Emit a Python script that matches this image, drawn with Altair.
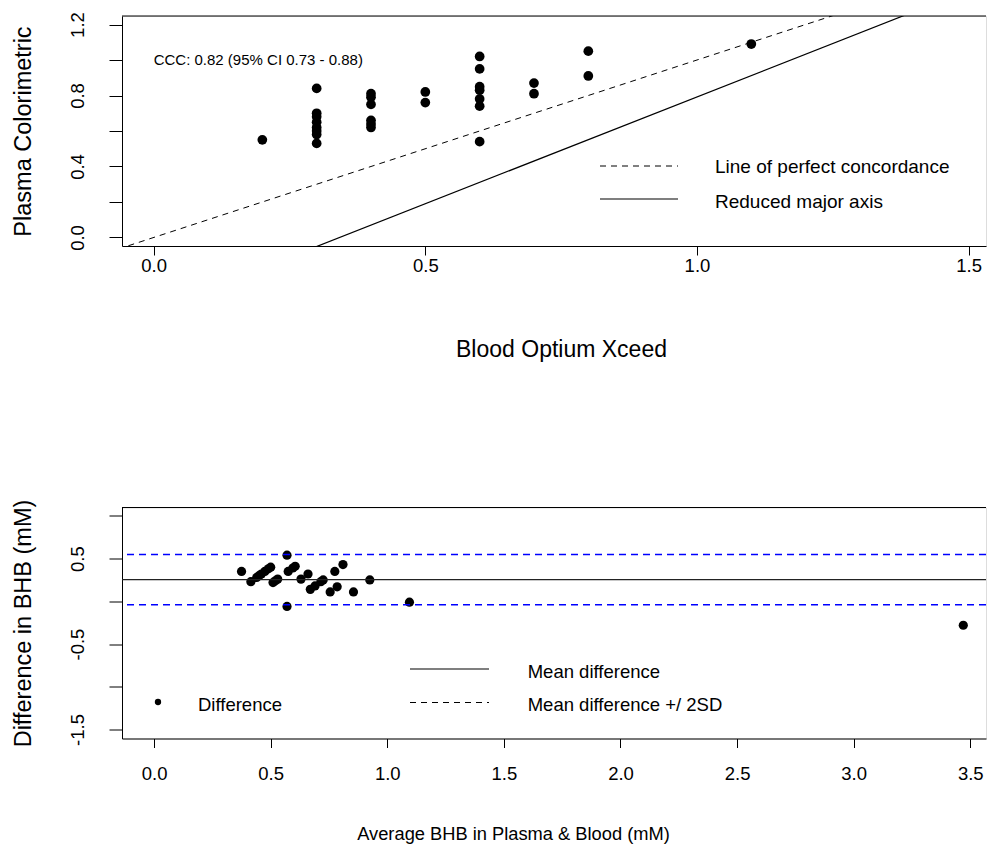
import altair as alt
import pandas as pd

# ---------------- data ----------------
blood_optium = [0.2,
                0.3, 0.3, 0.3, 0.3, 0.3, 0.3, 0.3, 0.3,
                0.4, 0.4, 0.4, 0.4, 0.4, 0.4,
                0.5, 0.5,
                0.6, 0.6, 0.6, 0.6, 0.6, 0.6, 0.6,
                0.7, 0.7,
                0.8, 0.8,
                1.1]
plasma_colorimetric = [0.55,
                       0.84, 0.70, 0.68, 0.65, 0.62, 0.60, 0.58, 0.53,
                       0.81, 0.79, 0.75, 0.66, 0.64, 0.62,
                       0.82, 0.76,
                       1.02, 0.95, 0.85, 0.83, 0.78, 0.74, 0.54,
                       0.87, 0.81,
                       1.05, 0.91,
                       1.09]

average_bhb = [0.375, 0.57, 0.50, 0.49, 0.475, 0.46, 0.45, 0.44, 0.415,
               0.605, 0.595, 0.575, 0.53, 0.52, 0.51,
               0.66, 0.63,
               0.81, 0.775, 0.725, 0.715, 0.69, 0.67, 0.57,
               0.785, 0.755,
               0.925, 0.855,
               1.095,
               3.47]
difference_bhb = [0.35, 0.54, 0.40, 0.38, 0.35, 0.32, 0.30, 0.28, 0.23,
                  0.41, 0.39, 0.35, 0.26, 0.24, 0.22,
                  0.32, 0.26,
                  0.43, 0.35, 0.25, 0.23, 0.18, 0.14, -0.06,
                  0.17, 0.11,
                  0.25, 0.11,
                  -0.01,
                  -0.28]

concordance_line = {"intercept": 0.0, "slope": 1.0}
rma_line = {"intercept": -0.412, "slope": 1.204}
mean_diff = 0.254
upper_loa = 0.547
lower_loa = -0.039
ccc_label = "CCC: 0.82 (95% CI 0.73 - 0.88)"

top_x_ticks = [0.0, 0.5, 1.0, 1.5]
top_y_ticks = [0.0, 0.2, 0.4, 0.6, 0.8, 1.0, 1.2]
bot_x_ticks = [0.0, 0.5, 1.0, 1.5, 2.0, 2.5, 3.0, 3.5]
bot_y_ticks = [-1.5, -1.0, -0.5, 0.0, 0.5, 1.0]

# ---------------- layout / style ----------------
FONT = "Liberation Sans"
W = 864
H1 = 230
H2 = 231
TOP_PX_PER_UNIT = 543.3
BOT_PX_PER_UNIT = 233.2
top_x_domain = [-0.0583, -0.0583 + W / TOP_PX_PER_UNIT]
top_y_domain = [-0.048, 1.248]
bot_x_domain = [-0.1376, -0.1376 + W / BOT_PX_PER_UNIT]
bot_y_domain = [-1.605, 1.098]

common_axis = dict(grid=False, domainColor="black", tickColor="black",
                   labelColor="black", titleColor="black", labelFont=FONT,
                   titleFont=FONT, titleFontWeight="normal", labelFontSize=18.5,
                   domainWidth=1, tickWidth=1)


def x_axis(title, values, title_x, title_y, title_size, label_pad):
    return alt.Axis(title=title, values=values, format=".1f", tickSize=9,
                    labelPadding=label_pad, titleFontSize=title_size, titleX=title_x,
                    titleY=title_y, titleBaseline="middle", titleAlign="center",
                    labelFlush=False, labelOverlap=False, **common_axis)


def y_axis(title, values, label_expr, h):
    return alt.Axis(title=title, values=values, labelExpr=label_expr,
                    tickSize=13, labelPadding=22, labelAngle=270,
                    labelAlign="center", labelBaseline="bottom",
                    titleFontSize=23.5, titleAngle=270, titleX=-99, titleY=h / 2,
                    titleBaseline="middle", titleAlign="center",
                    labelFlush=False, labelOverlap=False, **common_axis)


one = pd.DataFrame({"k": [0]})


def legend_text(txt, xp, yp, size):
    return alt.Chart(one).mark_text(align="left", baseline="middle", fontSize=size,
                                    font=FONT, color="black").encode(
        x=alt.value(xp), y=alt.value(yp), text=alt.value(txt))


def legend_rule(x1, x2, yp, dash=None, width=1.0):
    kw = dict(color="black", strokeWidth=width)
    if dash:
        kw["strokeDash"] = dash
    return alt.Chart(one).mark_rule(**kw).encode(
        x=alt.value(x1), x2=alt.value(x2), y=alt.value(yp))


# ---------------- top panel ----------------
xs1 = alt.Scale(domain=top_x_domain, nice=False, zero=False)
ys1 = alt.Scale(domain=top_y_domain, nice=False, zero=False)
ax1 = x_axis("Blood Optium Xceed", top_x_ticks, 439, 103, 23, 1)
ay1 = y_axis("Plasma Colorimetric", top_y_ticks,
             "indexof([0, 0.4, 0.8, 1.2], datum.value) >= 0 ? format(datum.value, '.1f') : ''",
             H1)
X1 = alt.X("x:Q", scale=xs1, axis=ax1)
Y1 = alt.Y("y:Q", scale=ys1, axis=ay1)

df_top = pd.DataFrame({"x": blood_optium, "y": plasma_colorimetric})

line_x = [top_x_domain[0] - 0.2, top_x_domain[1] + 0.2]
df_conc = pd.DataFrame({"x": line_x,
                        "y": [concordance_line["intercept"] + concordance_line["slope"] * v for v in line_x]})
df_rma = pd.DataFrame({"x": line_x,
                       "y": [rma_line["intercept"] + rma_line["slope"] * v for v in line_x]})

top_points = alt.Chart(df_top).mark_circle(size=95, color="black", opacity=1).encode(x=X1, y=Y1)
top_conc = alt.Chart(df_conc).mark_line(clip=True, color="black", strokeWidth=1,
                                        strokeDash=[6, 5]).encode(x=X1, y=Y1)
top_rma = alt.Chart(df_rma).mark_line(clip=True, color="black", strokeWidth=1.2).encode(x=X1, y=Y1)
top_text = alt.Chart(pd.DataFrame({"x": [0.0], "y": [1.0], "t": [ccc_label]})).mark_text(
    align="left", baseline="middle", fontSize=15, font=FONT, color="black").encode(
    x=X1, y=Y1, text="t:N")
top_border = alt.Chart(one).mark_rule(color="black", strokeWidth=1).encode(
    x=alt.value(0), x2=alt.value(W), y=alt.value(0))

top = alt.layer(
    top_points, top_conc, top_rma, top_text, top_border,
    legend_rule(478, 556, 150, dash=[6, 5]),
    legend_rule(478, 556, 183, width=1.2),
    legend_text("Line of perfect concordance", 593, 151, 19),
    legend_text("Reduced major axis", 593, 186, 19),
).properties(width=W, height=H1)

# ---------------- bottom panel ----------------
xs2 = alt.Scale(domain=bot_x_domain, nice=False, zero=False)
ys2 = alt.Scale(domain=bot_y_domain, nice=False, zero=False)
ax2 = x_axis("Average BHB in Plasma & Blood (mM)", bot_x_ticks, 391, 96, 18.3, 17)
ay2 = y_axis("Difference in BHB (mM)", bot_y_ticks,
             "datum.value == -1.5 ? '-1.5' : datum.value == -0.5 ? '-0.5' : datum.value == 0.5 ? '0.5' : ''",
             H2)
X2 = alt.X("x:Q", scale=xs2, axis=ax2)
Y2 = alt.Y("y:Q", scale=ys2, axis=ay2)

df_bot = pd.DataFrame({"x": average_bhb, "y": difference_bhb})
df_mean = pd.DataFrame({"y": [mean_diff]})
df_loa = pd.DataFrame({"y": [upper_loa, lower_loa]})

bot_mean = alt.Chart(df_mean).mark_rule(color="#222222", strokeWidth=1.3).encode(y=Y2)
bot_loa = alt.Chart(df_loa).mark_rule(color="#0000ff", strokeWidth=1.5,
                                      strokeDash=[7, 5]).encode(y=Y2)
bot_points = alt.Chart(df_bot).mark_circle(size=85, color="black", opacity=1).encode(x=X2, y=Y2)
bot_border = alt.Chart(one).mark_rule(color="black", strokeWidth=1).encode(
    x=alt.value(0), x2=alt.value(W), y=alt.value(0))
bot_leg_pt = alt.Chart(one).mark_circle(size=40, color="black", opacity=1).encode(
    x=alt.value(36), y=alt.value(194.5))

bottom = alt.layer(
    bot_points, bot_mean, bot_loa, bot_border,
    legend_rule(288, 367, 161.5, width=1.2),
    legend_rule(288, 367, 195, dash=[6, 5]),
    bot_leg_pt,
    legend_text("Mean difference", 405.7, 164.8, 18.5),
    legend_text("Mean difference +/ 2SD", 405.7, 197.5, 18.5),
    legend_text("Difference", 76, 197.5, 18.5),
).properties(width=W, height=H2)

chart = alt.vconcat(top, bottom, spacing=261.5, bounds="flush").properties(
    padding={"left": 2, "top": 3, "right": 0, "bottom": 0}
).configure_view(stroke=None).configure(background="white")

chart.save("out.html", embed_options={"renderer": "svg", "actions": False})
